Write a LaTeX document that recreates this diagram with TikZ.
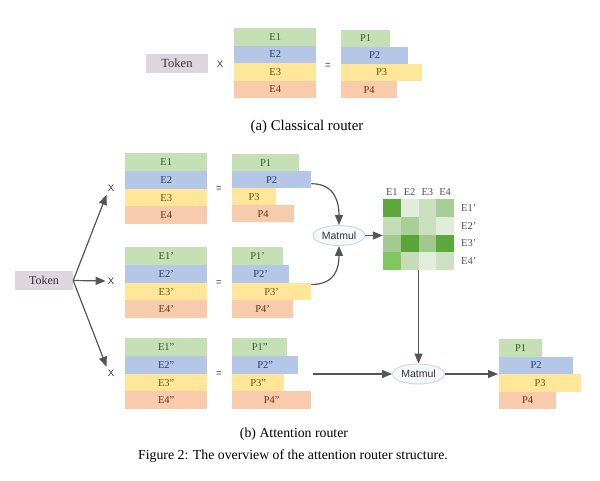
\documentclass[tikz,border=0pt]{standalone}
\usepackage{fontspec}
\setmainfont{Liberation Serif}
\newfontfamily\sansf{Liberation Sans}
\usetikzlibrary{arrows.meta,shapes.geometric}
\definecolor{gF}{HTML}{C5E0B4}
\definecolor{bF}{HTML}{B4C7E7}
\definecolor{yF}{HTML}{FFE699}
\definecolor{oF}{HTML}{F8CBAD}
\definecolor{gT}{HTML}{345C2A}
\definecolor{bT}{HTML}{243E70}
\definecolor{yT}{HTML}{6E5210}
\definecolor{oT}{HTML}{66341A}
\definecolor{tokF}{HTML}{DED5DE}
\definecolor{txtC}{HTML}{333333}
\definecolor{arrC}{HTML}{555555}
\definecolor{mmF}{HTML}{F5F8FC}
\definecolor{mmD}{HTML}{CAD7E8}
\definecolor{c11}{HTML}{5EA83C}
\definecolor{c12}{HTML}{E1ECDA}
\definecolor{c13}{HTML}{C9DFBD}
\definecolor{c14}{HTML}{A7CE95}
\definecolor{c21}{HTML}{C4DDB7}
\definecolor{c22}{HTML}{A9CF97}
\definecolor{c23}{HTML}{C9DFBE}
\definecolor{c24}{HTML}{E0EDD9}
\definecolor{c31}{HTML}{A3CB90}
\definecolor{c32}{HTML}{5AA43A}
\definecolor{c33}{HTML}{A0CA8B}
\definecolor{c34}{HTML}{5CA83C}
\definecolor{c41}{HTML}{82C75D}
\definecolor{c42}{HTML}{C4DDB6}
\definecolor{c43}{HTML}{E2EEDC}
\definecolor{c44}{HTML}{CCE1C1}
\begin{document}
\begin{tikzpicture}[x=1pt,y=-1pt,
  bar/.style={rectangle, inner sep=0pt, anchor=north west, font=\fontsize{10.5}{12}\selectfont},
  gbar/.style={bar, fill=gF, text=gT},
  bbar/.style={bar, fill=bF, text=bT},
  ybar/.style={bar, fill=yF, text=yT},
  obar/.style={bar, fill=oF, text=oT},
  tok/.style={rectangle, inner sep=0pt, fill=tokF, text=txtC, font=\fontsize{12.5}{14}\selectfont},
  op/.style={inner sep=0pt, text=txtC, font=\sansf\fontsize{9.5}{10}\selectfont},
  mm/.style={ellipse, draw=mmD, line width=0.9pt, fill=mmF, minimum width=52pt, minimum height=20pt, inner sep=0pt, text=txtC, font=\sansf\fontsize{10.5}{12}\selectfont},
  arr/.style={draw=arrC, line width=1.2pt, -{Triangle[length=10pt,width=8pt]}},
  glab/.style={inner sep=0pt, text=txtC!85, font=\fontsize{10.5}{12}\selectfont},
  captext/.style={inner sep=0pt, text=black, font=\fontsize{13.8}{16}\selectfont}
]
\useasboundingbox (0,0) rectangle (600,480);
% ---------- (a) classical router ----------
\node[tok, minimum width=62pt, minimum height=19pt] (atok) at (177,63.5) {Token};
\node[op] (aX) at (220,64) {X};
\node[gbar, minimum width=82pt, minimum height=17.5pt] (aE1) at (234,28) {E1};
\node[bbar, minimum width=82pt, minimum height=17.5pt] (aE2) at (234,45.5) {E2};
\node[ybar, minimum width=82pt, minimum height=17.5pt] (aE3) at (234,63) {E3};
\node[obar, minimum width=82pt, minimum height=17.5pt] (aE4) at (234,80.5) {E4};
\node[op] (aEq) at (328,66) {=};
\node[gbar, minimum width=49pt, minimum height=17.1pt] (aP1) at (341,29.5) {P1};
\node[bbar, minimum width=67pt, minimum height=17.1pt] (aP2) at (341,46.6) {P2};
\node[ybar, minimum width=81pt, minimum height=17.1pt] (aP3) at (341,63.7) {P3};
\node[obar, minimum width=56pt, minimum height=17.1pt] (aP4) at (341,80.8) {P4};
\node[captext, font=\fontsize{14.8}{17}\selectfont] (acap) at (307,127) {(a) Classical router};
% ---------- (b) attention router ----------
\node[tok, minimum width=58pt, minimum height=19pt, font=\fontsize{12}{14}\selectfont] (btok) at (44,280.5) {Token};
\node[op] (tX) at (111,188.5) {X};
\node[op] (mX) at (111,281) {X};
\node[op] (bX) at (111,373) {X};
% top group
\node[gbar, minimum width=82pt, minimum height=17.75pt] (tE1) at (125,153) {E1};
\node[bbar, minimum width=82pt, minimum height=17.75pt] (tE2) at (125,170.75) {E2};
\node[ybar, minimum width=82pt, minimum height=17.75pt] (tE3) at (125,188.5) {E3};
\node[obar, minimum width=82pt, minimum height=17.75pt] (tE4) at (125,206.25) {E4};
\node[op] (tEq) at (219,189) {=};
\node[gbar, minimum width=67pt, minimum height=17pt] (tP1) at (232,154) {P1};
\node[bbar, minimum width=79pt, minimum height=17pt] (tP2) at (232,171) {P2};
\node[ybar, minimum width=44pt, minimum height=17pt] (tP3) at (232,188) {P3};
\node[obar, minimum width=62pt, minimum height=17pt] (tP4) at (232,205) {P4};
% middle group
\node[gbar, minimum width=82pt, minimum height=17.75pt] (mE1) at (125,247) {E1'};
\node[bbar, minimum width=82pt, minimum height=17.75pt] (mE2) at (125,264.75) {E2'};
\node[ybar, minimum width=82pt, minimum height=17.75pt] (mE3) at (125,282.5) {E3'};
\node[obar, minimum width=82pt, minimum height=17.75pt] (mE4) at (125,300.25) {E4'};
\node[op] (mEq) at (219,283.5) {=};
\node[gbar, minimum width=51pt, minimum height=17.75pt] (mP1) at (232,247) {P1'};
\node[bbar, minimum width=57pt, minimum height=17.75pt] (mP2) at (232,264.75) {P2'};
\node[ybar, minimum width=79pt, minimum height=17.75pt] (mP3) at (232,282.5) {P3'};
\node[obar, minimum width=61pt, minimum height=17.75pt] (mP4) at (232,300.25) {P4'};
% bottom group
\node[gbar, minimum width=82pt, minimum height=17.75pt] (bE1) at (125,338) {E1"};
\node[bbar, minimum width=82pt, minimum height=17.75pt] (bE2) at (125,355.75) {E2"};
\node[ybar, minimum width=82pt, minimum height=17.75pt] (bE3) at (125,373.5) {E3"};
\node[obar, minimum width=82pt, minimum height=17.75pt] (bE4) at (125,391.25) {E4"};
\node[op] (bEq) at (219,374) {=};
\node[gbar, minimum width=55pt, minimum height=17.75pt] (bP1) at (232,338) {P1"};
\node[bbar, minimum width=66pt, minimum height=17.75pt] (bP2) at (232,355.75) {P2"};
\node[ybar, minimum width=52pt, minimum height=17.75pt] (bP3) at (232,373.5) {P3"};
\node[obar, minimum width=79pt, minimum height=17.75pt] (bP4) at (232,391.25) {P4"};
% matmul nodes
\node[mm] (mm1) at (339,235.5) {Matmul};
\node[mm] (mm2) at (418.5,374) {Matmul};
% attention grid
\node[inner sep=0pt, minimum width=71pt, minimum height=71pt] (grid) at (418.5,234.5) {};
\foreach \r in {1,2,3,4}{
  \foreach \c in {1,2,3,4}{
    \fill[c\r\c] ({383+17.75*(\c-1)},{199+17.75*(\r-1)}) rectangle ++(17.75,17.75);
  }
}
\node[glab] (cl1) at (391.9,192.5) {E1};
\node[glab] (cl2) at (409.6,192.5) {E2};
\node[glab] (cl3) at (427.4,192.5) {E3};
\node[glab] (cl4) at (445.1,192.5) {E4};
\node[glab, anchor=west] (rl1) at (461,207.9) {E1'};
\node[glab, anchor=west] (rl2) at (461,225.6) {E2'};
\node[glab, anchor=west] (rl3) at (461,243.4) {E3'};
\node[glab, anchor=west] (rl4) at (461,261.1) {E4'};
% output stack
\node[gbar, minimum width=43pt, minimum height=17.5pt] (oP1) at (499,339) {P1};
\node[bbar, minimum width=74pt, minimum height=17.5pt] (oP2) at (499,356.5) {P2};
\node[ybar, minimum width=82pt, minimum height=17.5pt] (oP3) at (499,374) {P3};
\node[obar, minimum width=57pt, minimum height=17.5pt] (oP4) at (499,391.5) {P4};
\coordinate (bstart) at (313,374);
% connectors
\draw[arr, shorten >=3pt] (btok.east) -- (tX.south west);
\draw[arr, shorten >=2pt] (btok.east) -- (mX.west);
\draw[arr, shorten >=3pt] (btok.east) -- (bX.north west);
\draw[arr] ([yshift=-4pt]tP2.east) .. controls +(24,0) and +(0,-22) .. (mm1.north);
\draw[arr] ([yshift=-2pt]mP3.north east) .. controls +(24,0) and +(0,22) .. (mm1.south);
\draw[arr] (mm1.east) -- (mm1.east -| grid.west);
\draw[arr] (grid.south) -- (mm2.north);
\draw[arr] (bstart) -- (mm2.west);
\draw[arr, shorten >=1pt] (mm2.east) -- (mm2.east -| oP2.west);
% captions
\node[captext] (bcap) at (294,434) {(b) Attention router};
\node[captext] (fcap) at (293,456) {Figure 2: The overview of the attention router structure.};
\end{tikzpicture}
\end{document}
